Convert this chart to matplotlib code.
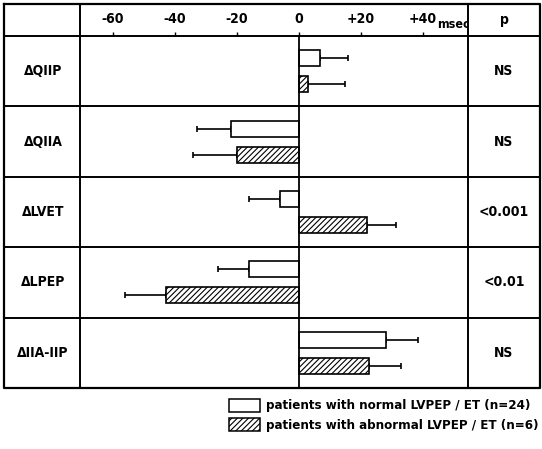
import matplotlib
matplotlib.use("Agg")
import matplotlib.pyplot as plt
from matplotlib.patches import Rectangle

plt.rcParams['font.family'] = ['DejaVu Sans']
plt.rcParams['font.stretch'] = 'condensed'
plt.rcParams['font.weight'] = 'bold'
plt.rcParams['hatch.linewidth'] = 0.8

categories = ["ΔQIIP", "ΔQIIA", "ΔLVET", "ΔLPEP", "ΔIIA-IIP"]
normal_mean = [7, -22, -6, -16, 28]
normal_sd = [9, 11, 10, 10, 10.5]
abnormal_mean = [3, -20, 22, -43, 22.5]
abnormal_sd = [12, 14, 9.5, 13, 10.5]
p_values = ["NS", "NS", "<0.001", "<0.01", "NS"]
xticks = [-60, -40, -20, 0, 20, 40]
xticklabels = ["-60", "-40", "-20", "0", "+20", "+40"]
legend_labels = ["patients with normal LVPEP / ET (n=24)",
                 "patients with abnormal LVPEP / ET (n=6)"]

W, H = 542, 449
fig = plt.figure(figsize=(W / 100, H / 100), dpi=100)

# layout in pixels
L, R = 4, 540
T, B = 4, 388
C1, C2 = 80, 468
HB = 36
nrow = len(categories)
rowh = (B - HB) / nrow
FS = 10
TXT = dict(fontsize=FS, fontweight='bold', fontstretch='condensed')

ov = fig.add_axes([0, 0, 1, 1])
ov.set_xlim(0, W)
ov.set_ylim(H, 0)
ov.axis('off')

ax = fig.add_axes([C1 / W, 1 - B / H, (C2 - C1) / W, (B - HB) / H])
ax.patch.set_visible(False)
ax.set_xlim(-70.6, 54.6)
ax.set_ylim(nrow - 0.5, -0.5)

off = 13 / rowh
bh = 16 / rowh
for i in range(nrow):
    nm, ns = normal_mean[i], normal_sd[i]
    am, asd = abnormal_mean[i], abnormal_sd[i]
    ax.barh(i - off, nm, height=bh, color='white', edgecolor='black', linewidth=1.2, zorder=3)
    ax.barh(i + off, am, height=bh, color='white', edgecolor='black', linewidth=1.2,
            hatch='//////', zorder=3)
    xe_n = [[ns], [0]] if nm < 0 else [[0], [ns]]
    xe_a = [[asd], [0]] if am < 0 else [[0], [asd]]
    ax.errorbar(nm, i - off, xerr=xe_n, fmt='none', ecolor='black', elinewidth=1.2,
                capsize=2.5, capthick=1.2, zorder=2)
    ax.errorbar(am, i + off, xerr=xe_a, fmt='none', ecolor='black', elinewidth=1.2,
                capsize=2.5, capthick=1.2, zorder=2)

ax.axvline(0, color='black', lw=1.3, zorder=4)
ax.set_yticks([])
ax.xaxis.tick_top()
ax.set_xticks(xticks)
ax.set_xticklabels(xticklabels, **TXT)
ax.tick_params(axis='x', direction='out', length=3, width=1, pad=4)
for s in ax.spines.values():
    s.set_visible(False)
ax.text(44.6, 1.0 + 5 / (B - HB), "msec", transform=ax.get_xaxis_transform(),
        va='bottom', ha='left', **{**TXT, 'fontsize': 9})

# table lines
lw = 1.4
ov.plot([L, R, R, L, L], [T, T, B, B, T], color='black', lw=1.6)
ov.plot([C1, C1], [T, B], color='black', lw=lw)
ov.plot([C2, C2], [T, B], color='black', lw=lw)
for k in range(nrow):
    y = HB + k * rowh
    ov.plot([L, R], [y, y], color='black', lw=lw)

for i, (c, p) in enumerate(zip(categories, p_values)):
    yc = HB + (i + 0.5) * rowh
    ov.text((L + C1) / 2 + 1, yc, c, ha='center', va='center', **TXT)
    ov.text((C2 + R) / 2, yc, p, ha='center', va='center', **TXT)
ov.text((C2 + R) / 2, (T + HB) / 2, "p", ha='center', va='center', **TXT)

# legend
ov.add_patch(Rectangle((229, 399), 31, 13, facecolor='white', edgecolor='black', lw=1.1))
ov.add_patch(Rectangle((229, 418), 31, 13, facecolor='white', edgecolor='black', lw=1.1,
                       hatch='//////'))
LEG = {**TXT, 'fontsize': 9.5}
ov.text(266, 406, legend_labels[0], ha='left', va='center', **LEG)
ov.text(266, 425, legend_labels[1], ha='left', va='center', **LEG)

fig.savefig("out.png", dpi=100)
